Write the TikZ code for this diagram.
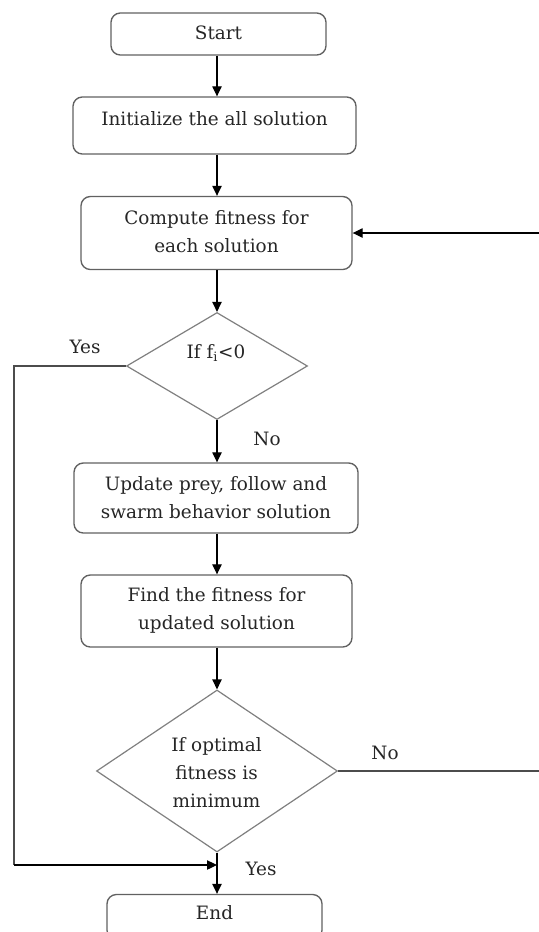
\documentclass[tikz,border=0pt]{standalone}
\usepackage{fontspec}
\setmainfont{DejaVu Serif}
\usetikzlibrary{arrows.meta,shapes.geometric}
\begin{document}
\begin{tikzpicture}[x=0.75pt,y=-0.75pt,
  box/.style={draw=black!62,line width=1pt,rounded corners=7pt,inner sep=0pt},
  decision/.style={diamond,draw=black!50,line width=0.9pt,inner sep=0pt,aspect=1},
  txt/.style={text=black!85,font=\fontsize{13.8}{21}\selectfont,align=center,inner sep=0pt},
  flow/.style={draw=black,line width=0.9pt,-{Triangle[length=7.5pt,width=7pt]}},
  plain/.style={draw=black!70,line width=0.9pt}]
\useasboundingbox (0,0) rectangle (539,932);
\clip (0,0) rectangle (539,932);
\fill[white] (0,0) rectangle (539,932);

% process boxes
\node[box,minimum width=161.25pt,minimum height=31.5pt] (start)   at (218.5,34)  {};
\node[box,minimum width=212.25pt,minimum height=42.75pt] (init)   at (214.5,125.5) {};
\node[box,minimum width=203.25pt,minimum height=54.75pt] (compute) at (216.5,233) {};
\node[box,minimum width=213pt,minimum height=52.5pt] (update)     at (216,498)   {};
\node[box,minimum width=203.25pt,minimum height=54pt] (find)      at (216.5,611) {};
\node[box,minimum width=161.25pt,minimum height=33.75pt] (stop)   at (214.5,917) {};

% decisions
\node[decision,minimum width=135.75pt,minimum height=80.25pt] (d1) at (217,366) {};
\node[decision,minimum width=180.75pt,minimum height=121.5pt] (d2) at (217,771) {};

% texts
\node[txt] (tstart)   at (218.5,33)  {Start};
\node[txt] (tinit)    at (214.5,119) {Initialize the all solution};
\node[txt] (tcompute) at (216.5,232) {Compute fitness for\\each solution};
\node[txt] (td1)      at (216,353)   {If f\textsubscript{i}<0};
\node[txt] (tupdate)  at (216,498)   {Update prey, follow and\\swarm behavior solution};
\node[txt] (tfind)    at (216.5,610) {Find the fitness for\\updated solution};
\node[txt] (td2)      at (216.5,773) {If optimal\\fitness is\\minimum};
\node[txt] (tstop)    at (214.5,913) {End};

% main column
\coordinate (col) at (217,0);
\draw[flow] (start.south -| col) -- (init.north -| col);
\draw[flow] (init.south -| col) -- (compute.north -| col);
\draw[flow] (compute.south -| col) -- (d1.north);
\draw[flow] (d1.south) -- (update.north -| col);
\node[txt] (lno1) at (267,439) {No};
\draw[flow] (update.south -| col) -- (find.north -| col);
\draw[flow] (find.south -| col) -- (d2.north);
\draw[flow] (d2.south) -- (stop.north -| col);

% yes branch of the first decision joins above End
\coordinate (yesL) at (14,366);
\coordinate (yesB) at (14,865);
\coordinate (join) at (217,865);
\draw[plain] (d1.west) -- (yesL) -- (yesB);
\draw[flow] (yesB) -- (join);
\node[txt] (lyes1) at (85,347) {Yes};
\node[txt] (lyes2) at (261,869) {Yes};

% no branch of the second decision loops back to fitness computation
\coordinate (rail) at (548,0);
\draw[plain] (d2.east) -- (d2.east -| rail) -- (compute.east -| rail);
\draw[flow] (compute.east -| rail) -- (compute.east);
\node[txt] (lno2) at (385,753) {No};
\end{tikzpicture}
\end{document}
